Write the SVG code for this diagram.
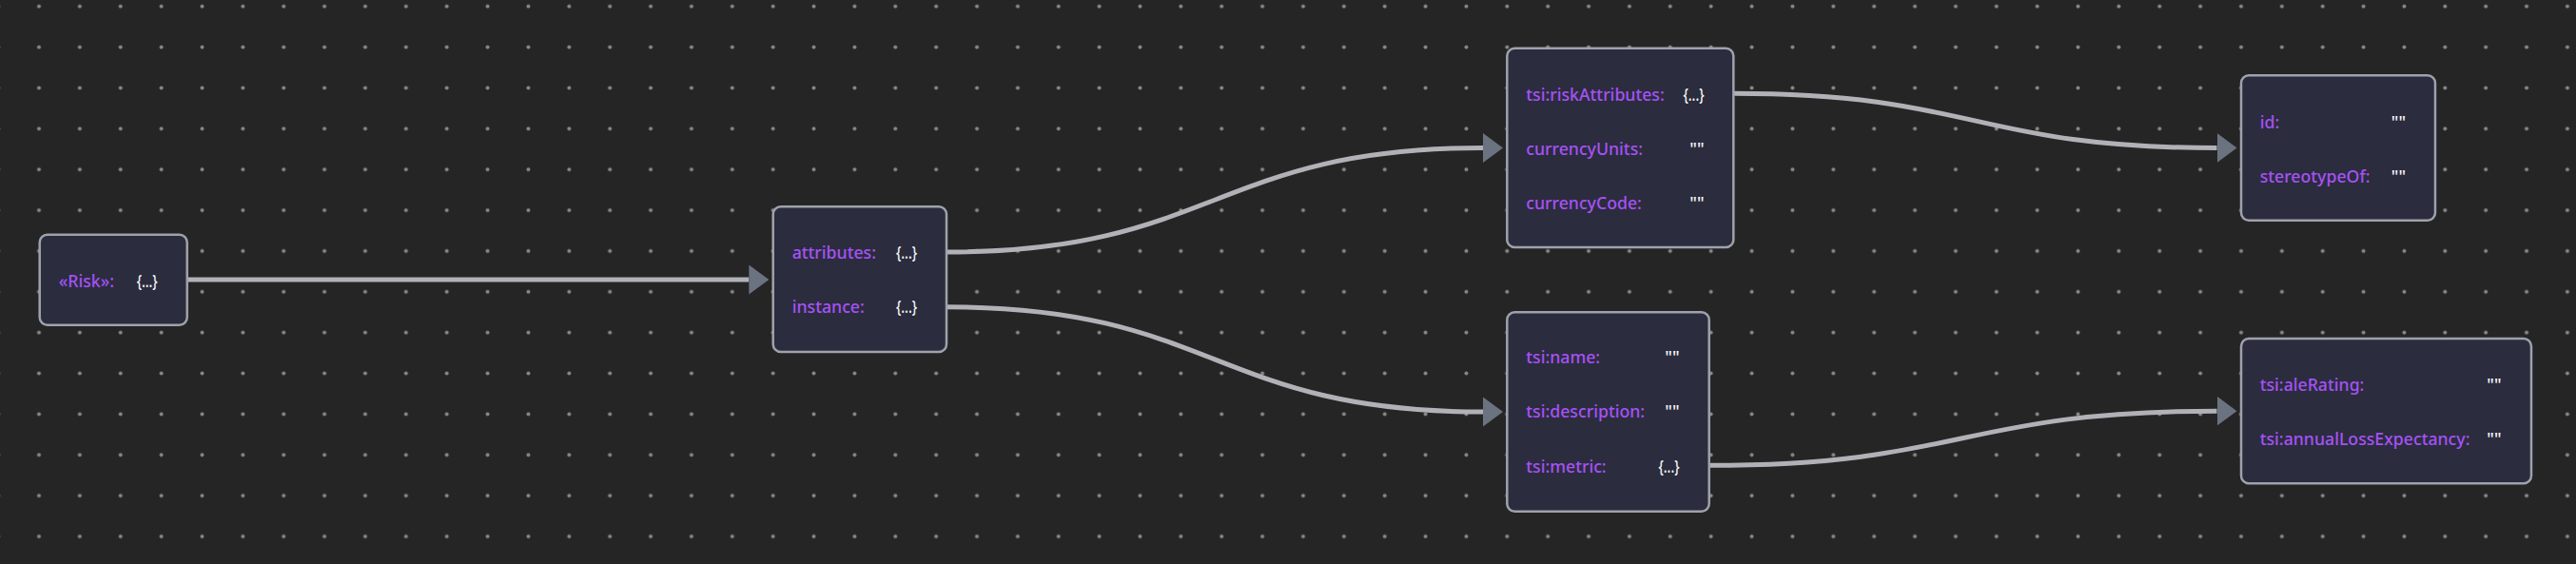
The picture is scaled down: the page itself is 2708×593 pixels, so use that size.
<svg xmlns="http://www.w3.org/2000/svg" width="2708" height="593" viewBox="0 0 2708 593">
  <style>
    .node rect { fill: #2b2c3e; stroke: #9ea2ab; stroke-width: 2.5; }
    .lbl { font-family: "Noto Sans", "Open Sans", sans-serif; font-size: 17.7px; font-weight: 500; fill: #a652f5; }
    .val { font-family: "Noto Sans", "Open Sans", sans-serif; font-size: 17.7px; font-weight: 500; fill: #f4f4f4; text-anchor: end; }
    .edge { fill: none; stroke: #b1b1b8; stroke-width: 5; marker-end: url(#arrow); }
  </style>
  <defs>
    <pattern id="grid" x="19.57" y="-14.73" width="42.87" height="42.87" patternUnits="userSpaceOnUse">
      <circle cx="21.43" cy="21.43" r="2" fill="#888888"/>
    </pattern>
    <marker id="arrow" markerUnits="userSpaceOnUse" viewBox="0 0 21 31" markerWidth="21" markerHeight="31" refX="0" refY="15.5" orient="auto">
      <polygon points="0,0 21,15.5 0,31" fill="#6b7280"/>
    </marker>
  </defs>
  <rect x="0" y="0" width="2708" height="593" fill="#252525"/>
  <rect x="0" y="0" width="2708" height="593" fill="url(#grid)"/>

  <g id="connectors">
    <path class="edge" d="M196.7,294 L787.3,294"/>
    <path class="edge" d="M995,265 C1277,265 1277,155.5 1559,155.5"/>
    <path class="edge" d="M995,322.7 C1277,322.7 1277,433 1559,433"/>
    <path class="edge" d="M1822.3,98.3 C2076,98.3 2076,155.5 2330.5,155.5"/>
    <path class="edge" d="M1796.7,489.3 C2063,489.3 2063,432.2 2330.5,432.2"/>
  </g>

  <g id="node-risk" class="node">
    <rect x="41.7" y="246.7" width="155" height="95" rx="8"/>
    <text class="lbl" x="61.7" y="301.5">«Risk»:</text>
    <text class="val" x="165.7" y="301.5" textLength="22" lengthAdjust="spacingAndGlyphs">{...}</text>
  </g>

  <g id="node-attributes" class="node">
    <rect x="812.7" y="217.3" width="182.3" height="152.7" rx="8"/>
    <text class="lbl" x="832.7" y="272.3">attributes:</text>
    <text class="val" x="964" y="272.3" textLength="22" lengthAdjust="spacingAndGlyphs">{...}</text>
    <text class="lbl" x="832.7" y="329.3">instance:</text>
    <text class="val" x="964" y="329.3" textLength="22" lengthAdjust="spacingAndGlyphs">{...}</text>
  </g>

  <g id="node-riskAttributes" class="node">
    <rect x="1584.3" y="50.7" width="238" height="209.3" rx="8"/>
    <text class="lbl" x="1604.3" y="105.7">tsi:riskAttributes:</text>
    <text class="val" x="1791.5" y="105.7" textLength="22" lengthAdjust="spacingAndGlyphs">{...}</text>
    <text class="lbl" x="1604.3" y="162.7">currencyUnits:</text>
    <text class="val" x="1791.5" y="162.7">""</text>
    <text class="lbl" x="1604.3" y="219.7">currencyCode:</text>
    <text class="val" x="1791.5" y="219.7">""</text>
  </g>

  <g id="node-instance" class="node">
    <rect x="1584.3" y="328.3" width="212.4" height="209.4" rx="8"/>
    <text class="lbl" x="1604.3" y="381.5">tsi:name:</text>
    <text class="val" x="1765.5" y="381.5">""</text>
    <text class="lbl" x="1604.3" y="438.8">tsi:description:</text>
    <text class="val" x="1765.5" y="438.8">""</text>
    <text class="lbl" x="1604.3" y="496.5">tsi:metric:</text>
    <text class="val" x="1765.5" y="496.5" textLength="22" lengthAdjust="spacingAndGlyphs">{...}</text>
  </g>

  <g id="node-stereotype" class="node">
    <rect x="2356" y="79.3" width="204" height="152.4" rx="8"/>
    <text class="lbl" x="2375.7" y="134.5">id:</text>
    <text class="val" x="2529" y="134.5">""</text>
    <text class="lbl" x="2375.7" y="191.5">stereotypeOf:</text>
    <text class="val" x="2529" y="191.5">""</text>
  </g>

  <g id="node-metric" class="node">
    <rect x="2356" y="356" width="305" height="152.3" rx="8"/>
    <text class="lbl" x="2375.7" y="411.3">tsi:aleRating:</text>
    <text class="val" x="2629.5" y="411.3">""</text>
    <text class="lbl" x="2375.7" y="468.3">tsi:annualLossExpectancy:</text>
    <text class="val" x="2629.5" y="468.3">""</text>
  </g>
</svg>
